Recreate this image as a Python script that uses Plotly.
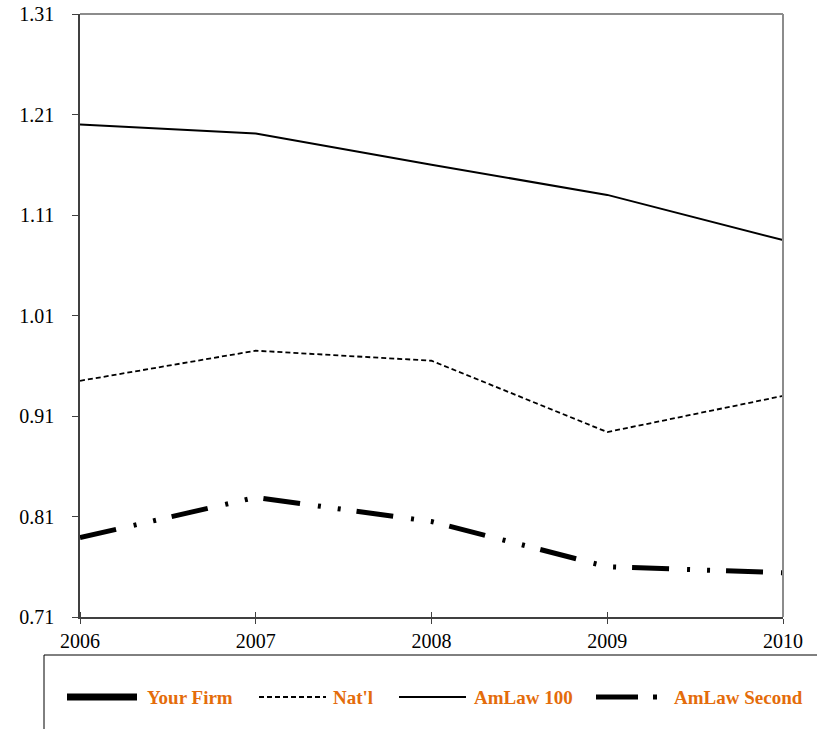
import plotly.graph_objects as go

# Ratio by year for each comparison group
years = [2006, 2007, 2008, 2009, 2010]
your_firm = [None, None, None, None, None]
natl = [0.945, 0.975, 0.965, 0.894, 0.930]
amlaw_100 = [1.200, 1.191, 1.160, 1.130, 1.085]
amlaw_second = [0.789, 0.829, 0.805, 0.760, 0.754]

series_names = ["Your Firm", "Nat'l", "AmLaw 100", "AmLaw Second"]
y_ticks = [0.71, 0.81, 0.91, 1.01, 1.11, 1.21, 1.31]

SERIF = "Liberation Serif"
ORANGE = "#E46C0A"

styles = {
    "Your Firm": dict(color="black", width=6, dash="solid"),
    "Nat'l": dict(color="black", width=1.8, dash="5px,3px"),
    "AmLaw 100": dict(color="black", width=2, dash="solid"),
    "AmLaw Second": dict(color="black", width=5,
                         dash="37px,18px,3px,17px,3px,16px"),
}

fig = go.Figure()
for name, vals in zip(series_names, [your_firm, natl, amlaw_100, amlaw_second]):
    fig.add_trace(go.Scatter(x=years, y=vals, mode="lines", name=name,
                             line=styles[name], showlegend=False,
                             connectgaps=False))

W, H = 817, 729
ML, MR, MT, MB = 80, 34, 14, 112
pw, ph = W - ML - MR, H - MT - MB


def px_x(p):
    return (p - ML) / pw


def px_y(p):
    return (H - MB - p) / ph


shapes = []
# top and right frame of the plot area
shapes.append(dict(type="line", xref="paper", yref="paper", x0=0, x1=1, y0=1, y1=1,
                   line=dict(color="#8c8c8c", width=2)))
shapes.append(dict(type="line", xref="paper", yref="paper", x0=1, x1=1, y0=0, y1=1,
                   line=dict(color="#8c8c8c", width=2)))
# legend box
shapes.append(dict(type="rect", xref="paper", yref="paper",
                   x0=px_x(44), x1=px_x(840), y0=px_y(655), y1=px_y(760),
                   line=dict(color="black", width=1), layer="above"))

# legend samples and labels
legend_y = 697
legend_items = [
    ("Your Firm", 67, 137, 145),
    ("Nat'l", 259, 326, 331),
    ("AmLaw 100", 399, 466, 472),
    ("AmLaw Second", 596, 660, 672),
]
annotations = []
for name, x0, x1, tx in legend_items:
    st = dict(styles[name])
    if name == "Your Firm":
        st["width"] = 7
    if name == "AmLaw Second":
        st["dash"] = "42px,15px,4px,60px"
    shapes.append(dict(type="line", xref="paper", yref="paper",
                       x0=px_x(x0), x1=px_x(x1), y0=px_y(legend_y), y1=px_y(legend_y),
                       line=st))
    annotations.append(dict(xref="paper", yref="paper", x=px_x(tx), y=px_y(legend_y),
                            text="<b>%s</b>" % name, showarrow=False,
                            xanchor="left", yanchor="middle",
                            font=dict(family=SERIF, size=19, color=ORANGE)))

fig.update_layout(
    width=W, height=H,
    margin=dict(l=ML, r=MR, t=MT, b=MB, autoexpand=False),
    paper_bgcolor="white", plot_bgcolor="white",
    shapes=shapes, annotations=annotations,
    xaxis=dict(range=[2006, 2010], tickvals=years, ticktext=[str(y) for y in years],
               showgrid=False, zeroline=False, showline=True, linecolor="#404040",
               linewidth=1.5, ticks="outside", ticklen=5, tickcolor="#404040",
               tickfont=dict(family=SERIF, size=20, color="black"),
               minor=dict(ticks="inside", tick0=2006, dtick=1, ticklen=5,
                          tickcolor="#404040"),
               automargin=False, fixedrange=True),
    yaxis=dict(range=[0.71, 1.31], tickvals=y_ticks,
               ticktext=["%.2f" % v for v in y_ticks],
               showgrid=False, zeroline=False, showline=True, linecolor="#404040",
               linewidth=1.5, ticks="outside", ticklen=6, tickcolor="#404040",
               ticklabelstandoff=14,
               tickfont=dict(family=SERIF, size=20, color="black"),
               automargin=False, fixedrange=True),
)

fig.write_html("out.html")
